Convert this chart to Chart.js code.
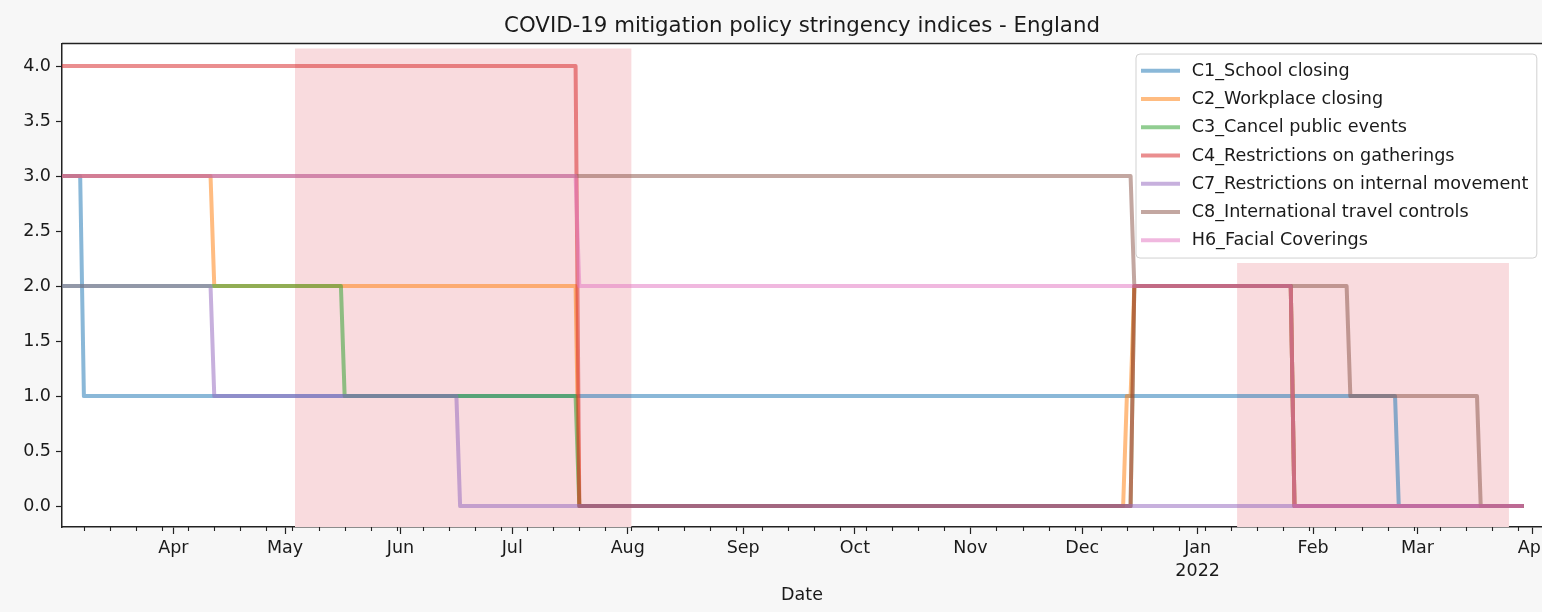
<!DOCTYPE html>
<html><head><meta charset="utf-8">
<script src="https://cdn.jsdelivr.net/npm/chart.js@4.4.1/dist/chart.umd.min.js"></script>
<style>
html,body{margin:0;padding:0;background:#f7f7f7;}
#wrap{position:absolute;left:0;top:0;width:1542px;height:612px;}
</style>
</head><body>
<div id="wrap"><canvas id="c" width="1542" height="612"></canvas></div>
<script>
// ---------- DATA ----------
const seriesNames = ['C1_School closing','C2_Workplace closing','C3_Cancel public events',
  'C4_Restrictions on gatherings','C7_Restrictions on internal movement',
  'C8_International travel controls','H6_Facial Coverings'];
const seriesColors = ['rgba(31,119,180,0.52)','rgba(255,127,14,0.52)','rgba(44,160,44,0.52)',
  'rgba(214,39,40,0.52)','rgba(148,103,189,0.52)','rgba(140,86,75,0.52)','rgba(227,119,194,0.52)'];

const c1Dates  = ['2021-03-02','2021-03-07','2021-03-08','2022-02-23','2022-02-24','2022-03-29'];
const c1Values = [3,3,1,1,0,0];
const c2Dates  = ['2021-03-02','2021-04-11','2021-04-12','2021-07-18','2021-07-19','2021-12-12','2021-12-13','2021-12-14','2021-12-15','2022-01-26','2022-01-27','2022-03-29'];
const c2Values = [3,3,2,2,0,0,1,1,2,2,0,0];
const c3Dates  = ['2021-03-02','2021-05-16','2021-05-17','2021-07-18','2021-07-19','2021-12-14','2021-12-15','2022-01-26','2022-01-27','2022-03-29'];
const c3Values = [2,2,1,1,0,0,2,2,0,0];
const c4Dates  = ['2021-03-02','2021-07-18','2021-07-19','2021-12-14','2021-12-15','2022-01-26','2022-01-27','2022-03-29'];
const c4Values = [4,4,0,0,2,2,0,0];
const c7Dates  = ['2021-03-02','2021-04-11','2021-04-12','2021-06-16','2021-06-17','2022-03-29'];
const c7Values = [2,2,1,1,0,0];
const c8Dates  = ['2021-03-02','2021-12-14','2021-12-15','2022-02-10','2022-02-11','2022-03-17','2022-03-18','2022-03-29'];
const c8Values = [3,3,2,2,1,1,0,0];
const h6Dates  = ['2021-03-02','2021-07-18','2021-07-19','2022-01-26','2022-01-27','2022-03-29'];
const h6Values = [3,3,2,2,0,0];

// shaded periods
const spanStarts = ['2021-05-03T16:00','2022-01-11T14:00'];
const spanEnds   = ['2021-08-02T01:00','2022-03-25T14:00'];
const spanTops   = [4.16, 2.21];

// ticks
const monthTickDates  = ['2021-04-01','2021-05-01','2021-06-01','2021-07-01','2021-08-01','2021-09-01','2021-10-01','2021-11-01','2021-12-01','2022-01-01','2022-02-01','2022-03-01','2022-04-01'];
const monthTickLabels = ['Apr','May','Jun','Jul','Aug','Sep','Oct','Nov','Dec',['Jan','2022'],'Feb','Mar','Apr'];
const yTickValues = [0,0.5,1,1.5,2,2.5,3,3.5,4];

// ---------- helpers ----------
const BASE = Date.UTC(2021,3,1);
function dayOf(s){ const t = s.length===10 ? s+'T00:00Z' : s+'Z'; return (Date.parse(t)-BASE)/86400000; }
const X_MIN = dayOf('2021-03-02') + 0.12;
const X_MAX = dayOf('2022-04-03') + 0.45;

const allDates = [c1Dates,c2Dates,c3Dates,c4Dates,c7Dates,c8Dates,h6Dates];
const allValues = [c1Values,c2Values,c3Values,c4Values,c7Values,c8Values,h6Values];

const FONT = 'DejaVu Sans';
const TXT = '#1a1a1a';
const AX = '#222222';

const datasets = [];
seriesNames.forEach((name,i)=>{
  datasets.push({
    label:name,
    data: allDates[i].map((d,j)=>({x:dayOf(d), y:allValues[i][j]})),
    borderColor: seriesColors[i],
    backgroundColor: seriesColors[i],
    borderWidth: 4,
    pointRadius: 0,
    tension: 0,
    fill: false,
    borderCapStyle: 'square',
    borderJoinStyle: 'round',
    clip: 0,
    order: seriesNames.length - i
  });
});
spanStarts.forEach((s,i)=>{
  datasets.push({
    label:'span'+i, isSpan:true,
    data:[{x:dayOf(s), y:spanTops[i]},{x:dayOf(spanEnds[i]), y:spanTops[i]}],
    borderColor:'rgba(0,0,0,0)', borderWidth:1,
    backgroundColor:'rgb(249,219,222)',
    fill:'start', pointRadius:0, clip:0, order:100
  });
});

// ---------- plugins ----------
const areaBg = {
  id:'areaBg',
  beforeDraw(chart){
    const a = chart.chartArea, ctx = chart.ctx;
    ctx.save(); ctx.fillStyle = '#ffffff';
    ctx.fillRect(a.left, a.top, a.right-a.left, a.bottom-a.top);
    ctx.restore();
  }
};
const frameAndMinor = {
  id:'frameAndMinor',
  afterDraw(chart){
    const a = chart.chartArea, ctx = chart.ctx, xs = chart.scales.x;
    ctx.save();
    ctx.strokeStyle = AX; ctx.lineWidth = 1.5;
    ctx.beginPath(); ctx.moveTo(a.left, a.top); ctx.lineTo(a.right, a.top); ctx.stroke();
    // minor weekly ticks (Mondays, not month starts)
    ctx.lineWidth = 1.1;
    ctx.beginPath();
    for (let d = dayOf('2021-03-01'); d <= X_MAX; d += 7){
      if (d < X_MIN) continue;
      const dt = new Date(BASE + d*86400000);
      if (dt.getUTCDate() === 1) continue;
      const px = Math.round(xs.getPixelForValue(d)) + 0.5;
      ctx.moveTo(px, a.bottom); ctx.lineTo(px, a.bottom + 4);
    }
    ctx.stroke();
    ctx.restore();
  }
};
const mplLegend = {
  id:'mplLegend',
  afterDraw(chart){
    const ctx = chart.ctx, a = chart.chartArea;
    const items = chart.data.datasets.filter(d=>!d.isSpan);
    ctx.save();
    ctx.font = '17.6px "' + FONT + '"';
    let maxW = 0; items.forEach(d=>{ maxW = Math.max(maxW, ctx.measureText(d.label).width); });
    const x0 = 1136, y0 = a.top + 10.5, textX = 1191.7, step = 28.25;
    const w = (textX - x0) + maxW + 8.5, h = 204;
    const r = 4;
    ctx.beginPath();
    ctx.moveTo(x0+r, y0); ctx.lineTo(x0+w-r, y0); ctx.arcTo(x0+w, y0, x0+w, y0+r, r);
    ctx.lineTo(x0+w, y0+h-r); ctx.arcTo(x0+w, y0+h, x0+w-r, y0+h, r);
    ctx.lineTo(x0+r, y0+h); ctx.arcTo(x0, y0+h, x0, y0+h-r, r);
    ctx.lineTo(x0, y0+r); ctx.arcTo(x0, y0, x0+r, y0, r); ctx.closePath();
    ctx.fillStyle = 'rgba(255,255,255,0.8)'; ctx.fill();
    ctx.strokeStyle = 'rgba(204,204,204,0.9)'; ctx.lineWidth = 1; ctx.stroke();
    items.forEach((d,i)=>{
      const y = y0 + 16.7 + i*step;
      ctx.strokeStyle = d.borderColor; ctx.lineWidth = 4; ctx.lineCap = 'butt';
      ctx.beginPath(); ctx.moveTo(1141, y); ctx.lineTo(1180, y); ctx.stroke();
      ctx.fillStyle = TXT; ctx.textBaseline = 'middle'; ctx.textAlign = 'left';
      ctx.fillText(d.label, textX, y + 0.5);
    });
    ctx.restore();
  }
};

Chart.defaults.font.family = FONT;

new Chart(document.getElementById('c'), {
  type:'line',
  data:{ datasets },
  options:{
    responsive:false, animation:false, devicePixelRatio:1,
    parsing:true,
    layout:{ padding:0 },
    plugins:{
      legend:{ display:false },
      tooltip:{ enabled:false },
      title:{ display:true, fullSize:false, text:'COVID-19 mitigation policy stringency indices - England',
        color:TXT, font:{ family:FONT, size:21.3, weight:'normal', lineHeight:1.2 },
        padding:{ top:14, bottom:4 } }
    },
    scales:{
      x:{
        type:'linear', min:X_MIN, max:X_MAX,
        afterBuildTicks: ax => { ax.ticks = monthTickDates.map(s=>({ value: dayOf(s) })); },
        ticks:{ autoSkip:false, maxRotation:0, minRotation:0, padding:3, color:TXT,
          font:{ family:FONT, size:17.5, lineHeight:1.3 },
          callback:(v,i)=> monthTickLabels[i] },
        grid:{ drawOnChartArea:false, drawTicks:true, tickLength:7, tickColor:AX, tickWidth:1.2 },
        border:{ display:true, color:AX, width:1.5 },
        title:{ display:true, text:'Date', color:TXT, font:{ family:FONT, size:17.5, lineHeight:1.2 },
          padding:{ top:0, bottom:6 } },
        afterFit: s => { s.height = 85; s.paddingLeft = 0; s.paddingRight = 0; }
      },
      y:{
        type:'linear', min:-0.19, max:4.205,
        afterBuildTicks: ax => { ax.ticks = yTickValues.map(v=>({ value:v })); },
        ticks:{ padding:5, color:TXT, font:{ family:FONT, size:17.5 }, callback: v => Number(v).toFixed(1) },
        grid:{ drawOnChartArea:false, drawTicks:true, tickLength:6, tickColor:AX, tickWidth:1.2 },
        border:{ display:true, color:AX, width:1.5 },
        afterFit: s => { s.width = 62; s.paddingTop = 0; s.paddingBottom = 0; }
      }
    }
  },
  plugins:[areaBg, frameAndMinor, mplLegend]
});
</script>
</body></html>
